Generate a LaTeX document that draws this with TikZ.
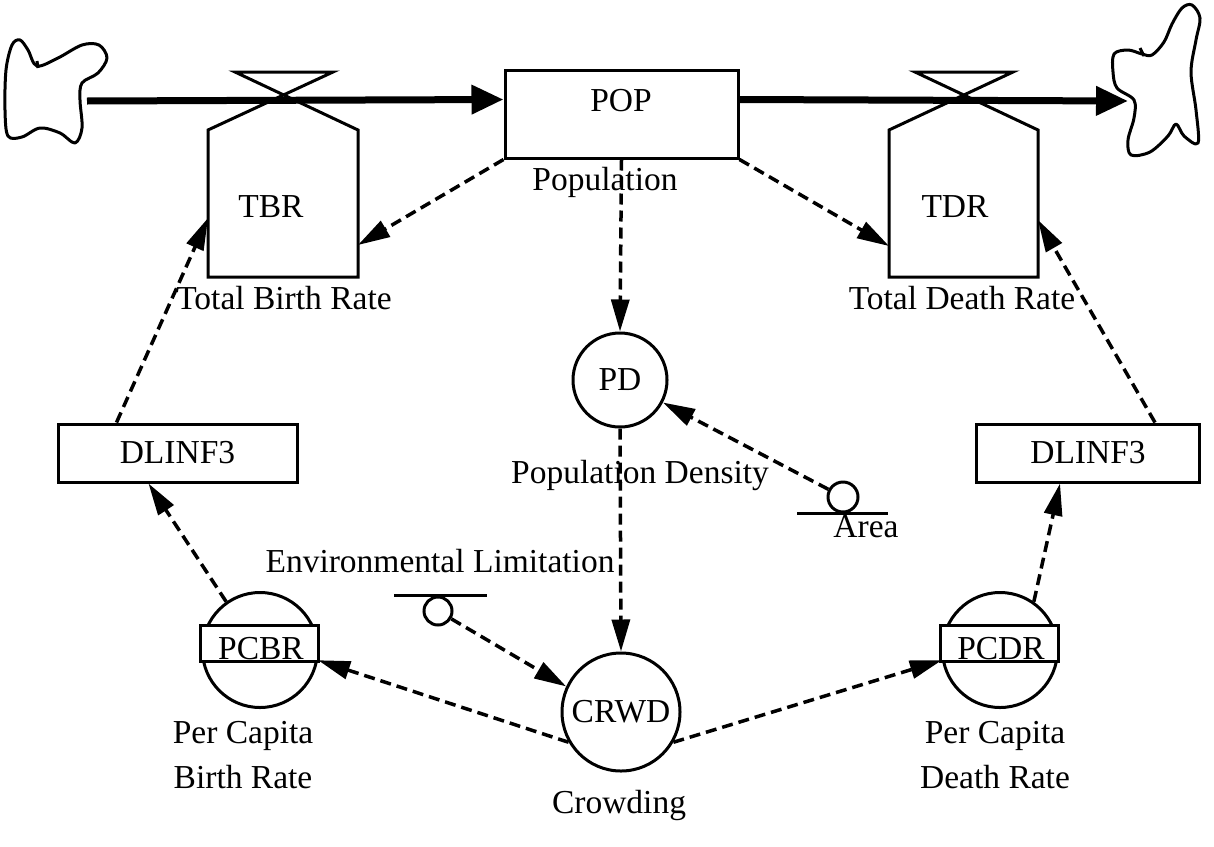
\documentclass[tikz,border=0pt]{standalone}
\usepackage{fontspec}
\setmainfont{Liberation Serif}
\usetikzlibrary{arrows.meta,calc}
\begin{document}
\begin{tikzpicture}[x=1pt,y=-1pt,
  font=\fontsize{33.5}{45}\selectfont,
  outline/.style={line width=3pt},
  flow/.style={line width=7pt,-{Triangle[length=32pt,width=28pt]}},
  info/.style={line width=3.5pt,dash pattern=on 11pt off 6pt,-{Triangle[length=32pt,width=18pt]}},
  lbl/.style={inner sep=0pt,align=center},
  ghost/.style={inner sep=0pt,outer sep=0pt,draw=none},
  circ/.style={circle,draw,outline,inner sep=0pt},
  boxn/.style={rectangle,draw,outline,inner sep=0pt}]
\useasboundingbox (0,0) rectangle (1214,846);

% clouds
\draw[outline,line join=round] plot[smooth cycle,tension=0.55] coordinates {
 (37,66) (28,50) (20,40) (12,45) (6,70) (5,110) (8,136) (22,137) (40,128) (60,133) (75,143) (82,128) (80,100) (82,83) (98,73) (107,58) (99,45) (82,45) (58,58)};
\draw[outline] (37,61) -- (38,68);
\coordinate (cloudL) at (87,101);
\draw[outline,line join=round] plot[smooth cycle,tension=0.55] coordinates {
 (1142,54) (1128,50) (1114,54) (1113,72) (1117,88) (1134,100) (1134,118) (1128,140) (1131,155) (1150,152) (1168,136) (1176,124) (1184,136) (1198,143) (1196,110) (1191,72) (1196,40) (1200,18) (1192,5) (1182,8) (1172,24) (1164,42) (1152,55)};
\draw[outline] (1140,48) -- (1144,56);
\coordinate (cloudR) at (1128,101);

% stock
\node[boxn,minimum width=233pt,minimum height=88pt] (pop) at (621.5,114) {};
\node[lbl] (popT) at (621,101) {POP};

% valves
\node[ghost,minimum width=150pt,minimum height=147pt] (tbr) at (283,203.5) {};
\draw[outline,line join=miter] (tbr.south west) -- (tbr.north west) -- (333,72) -- (235,72) -- (tbr.north east) -- (tbr.south east) -- cycle;
\node[lbl] (tbrT) at (271,207) {TBR};
\node[ghost,minimum width=149pt,minimum height=147pt] (tdr) at (963.5,203.5) {};
\draw[outline,line join=miter] (tdr.south west) -- (tdr.north west) -- (1013,72) -- (915,72) -- (tdr.north east) -- (tdr.south east) -- cycle;
\node[lbl] (tdrT) at (955,207) {TDR};

% flows
\draw[flow] (cloudL) -- ($(pop.north west)+(0,31)$);
\draw[flow] ($(pop.north east)+(0,31)$) -- (cloudR);

% auxiliaries
\node[circ,minimum size=94pt] (pd) at (620,380) {PD};
\node[circ,minimum size=118pt] (crwd) at (621,712) {CRWD};

\node[circ,minimum size=115pt] (pcbr) at (260,650) {};
\draw[outline,fill=white] (200,625) rectangle (318,661);
\node[lbl] (pcbrT) at (261,649) {PCBR};
\node[circ,minimum size=115pt] (pcdr) at (1000,650) {};
\draw[outline,fill=white] (940,625) rectangle (1058,661);
\node[lbl] (pcdrT) at (1001,649) {PCDR};

\node[boxn,minimum width=239pt,minimum height=58pt] (dlL) at (177.5,453) {DLINF3};
\node[boxn,minimum width=223pt,minimum height=58pt] (dlR) at (1088,453) {DLINF3};

% constants
\draw[outline] (394,595) -- (487,595);
\node[circ,minimum size=28pt] (env) at (438,611) {};
\draw[outline] (797,513) -- (888,513);
\node[circ,minimum size=30pt] (area) at (843,497) {};

% labels
\node[lbl] (l1) at (605,182) {Population};
\node[lbl] (l2) at (284,298) {Total Birth Rate};
\node[lbl] (l3) at (962,298) {Total Death Rate};
\node[lbl] (l4) at (640,475) {Population Density};
\node[lbl] (l5) at (866,527) {Area};
\node[lbl] (l6) at (440,561) {Environmental Limitation};
\node[lbl] (l7) at (243,755) {Per Capita\\Birth Rate};
\node[lbl] (l8) at (995,755) {Per Capita\\Death Rate};
\node[lbl] (l9) at (619,805) {Crowding};

% information links
\draw[info] (pop.south west) -- ($(tbr.south east)+(0,-32)$);
\draw[info] (pop.south east) -- ($(tdr.south west)+(0,-31)$);
\draw[info] (pop.south) -- (pd.north);
\draw[info] (pd.south) -- (crwd.north);
\draw[info] (area) -- (pd);
\draw[info] (env) -- (crwd.155);
\draw[info] (crwd.210) -- (pcbr.-10);
\draw[info] (crwd.-30) -- (pcdr.190);
\draw[info] (pcbr.125) -- ($(dlL.south west)+(92,0)$);
\draw[info] ($(dlL.north west)+(60,0)$) -- ($(tbr.south west)+(0,-59)$);
\draw[info] (pcdr.55) -- ($(dlR.south west)+(85,0)$);
\draw[info] ($(dlR.north west)+(180,0)$) -- ($(tdr.south east)+(0,-57)$);
\end{tikzpicture}
\end{document}
